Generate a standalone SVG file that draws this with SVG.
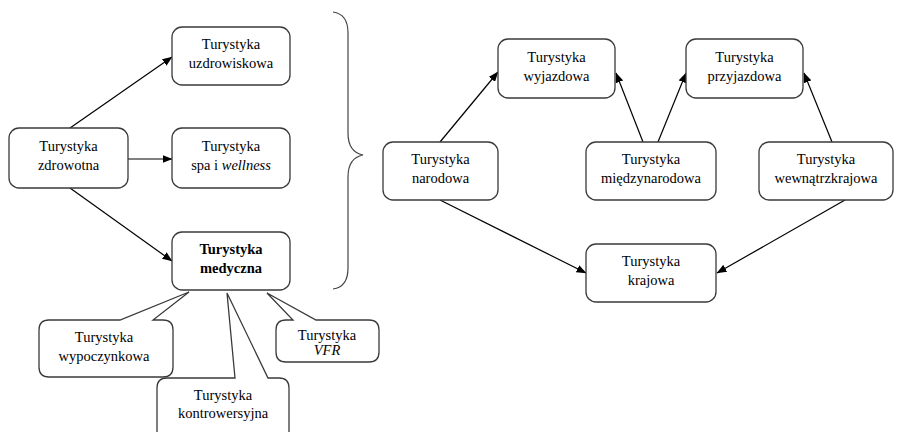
<svg xmlns="http://www.w3.org/2000/svg" width="903" height="432" viewBox="0 0 903 432">
<style>
.box{fill:#fff;stroke:#3a3a3a;stroke-width:1.3}
.conn{fill:none;stroke:#000;stroke-width:1.2}
.arr{marker-end:url(#ah)}
text{font-family:"Liberation Serif","Times New Roman",serif;font-size:14.5px;fill:#000;text-anchor:middle}
.b{font-weight:bold}
.i{font-style:italic}
</style>
<defs>
<marker id="ah" markerUnits="userSpaceOnUse" markerWidth="10" markerHeight="8" refX="9.5" refY="4" orient="auto">
<path d="M0,0 L10,4 L0,8 Z" fill="#000"/>
</marker>
</defs>
<rect width="903" height="432" fill="#fff"/>
<g id="connectors">
<line class="conn arr" x1="70" y1="128" x2="172" y2="57"/>
<line class="conn arr" x1="128" y1="159" x2="172" y2="159"/>
<line class="conn arr" x1="70" y1="188" x2="172" y2="261"/>
<line class="conn arr" x1="440" y1="142" x2="498" y2="72"/>
<line class="conn arr" x1="643" y1="142" x2="616" y2="73"/>
<line class="conn arr" x1="658" y1="142" x2="686" y2="73"/>
<line class="conn arr" x1="832" y1="142" x2="804" y2="73"/>
<line class="conn arr" x1="440" y1="200" x2="586" y2="273"/>
<line class="conn arr" x1="845" y1="200" x2="717" y2="273"/>
</g>
<g id="brace">
<path class="conn" style="stroke:#444" d="M333,12 Q348,14 348,33 L348,133 Q348,152 363,155 Q348,158 348,177 L348,268 Q348,287 333,289"/>
</g>
<g id="n-uzdrowiskowa">
<rect class="box" x="172" y="27" width="118" height="58" rx="10"/>
<text x="231" y="49">Turystyka</text><text x="231" y="68">uzdrowiskowa</text>
</g>
<g id="n-zdrowotna">
<rect class="box" x="9" y="128" width="119" height="60" rx="10"/>
<text x="68.5" y="151">Turystyka</text><text x="68.5" y="170">zdrowotna</text>
</g>
<g id="n-spa">
<rect class="box" x="172" y="128" width="118" height="60" rx="10"/>
<text x="231" y="151">Turystyka</text><text x="231" y="170">spa i <tspan class="i">wellness</tspan></text>
</g>
<g id="n-medyczna">
<rect class="box" x="172" y="232" width="118" height="58" rx="10"/>
<text class="b" x="231" y="254">Turystyka</text><text class="b" x="231" y="273">medyczna</text>
</g>
<g id="n-wypoczynkowa">
<path class="box" d="M49,320 L120,320 L189,292 L153,320 L163,320 Q173,320 173,330 L173,367 Q173,377 163,377 L49,377 Q39,377 39,367 L39,330 Q39,320 49,320 Z"/>
<text x="104" y="342">Turystyka</text><text x="104" y="361">wypoczynkowa</text>
</g>
<g id="n-kontrowersyjna">
<path class="box" d="M167,378 L235,378 L227,293 L268,378 L279,378 Q289,378 289,388 L289,435 Q289,445 279,445 L167,445 Q157,445 157,435 L157,388 Q157,378 167,378 Z"/>
<text x="223" y="400">Turystyka</text><text x="223" y="418">kontrowersyjna</text>
</g>
<g id="n-vfr">
<path class="box" d="M286,320 L293,320 L267,293 L316,320 L369,320 Q379,320 379,330 L379,352 Q379,362 369,362 L286,362 Q276,362 276,352 L276,330 Q276,320 286,320 Z"/>
<text x="327" y="340">Turystyka</text><text class="i" x="327" y="355">VFR</text>
</g>
<g id="n-wyjazdowa">
<rect class="box" x="498" y="39" width="117" height="59" rx="10"/>
<text x="556.5" y="62">Turystyka</text><text x="556.5" y="81">wyjazdowa</text>
</g>
<g id="n-przyjazdowa">
<rect class="box" x="686" y="39" width="117" height="59" rx="10"/>
<text x="744.5" y="62">Turystyka</text><text x="744.5" y="81">przyjazdowa</text>
</g>
<g id="n-narodowa">
<rect class="box" x="383" y="142" width="115" height="58" rx="10"/>
<text x="440.5" y="164">Turystyka</text><text x="440.5" y="183">narodowa</text>
</g>
<g id="n-miedzynarodowa">
<rect class="box" x="586" y="142" width="130" height="58" rx="10"/>
<text x="651" y="164">Turystyka</text><text x="651" y="183">międzynarodowa</text>
</g>
<g id="n-wewnatrzkrajowa">
<rect class="box" x="759" y="142" width="134" height="58" rx="10"/>
<text x="826" y="164">Turystyka</text><text x="826" y="183">wewnątrzkrajowa</text>
</g>
<g id="n-krajowa">
<rect class="box" x="586" y="244" width="130" height="58" rx="10"/>
<text x="651" y="266">Turystyka</text><text x="651" y="285">krajowa</text>
</g>
</svg>
